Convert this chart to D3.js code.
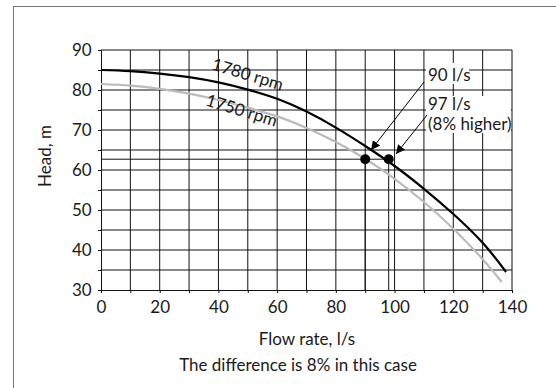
<!DOCTYPE html>
<html><head><meta charset="utf-8">
<script src="https://cdn.jsdelivr.net/npm/d3@7"></script>
<style>body{margin:0;background:#fff}svg{display:block}text{font-family:Lato,"Open Sans",sans-serif;fill:#1a1a1a}</style>
</head><body><svg id="c" width="556" height="388"></svg>
<script>
const flow1780 = [0,10,20,30,40,50,60,70,80,90,100,110,120,130,138];
const head1780 = [85,84.7,84.1,83.2,81.9,80.1,77.8,74.6,70.6,66.0,61.0,55.3,49.0,41.8,34.5];
const flow1750 = [0,10,20,30,40,50,60,70,80,90,100,110,120,130,136.5];
const head1750 = [81.5,81.1,80.3,79.1,77.5,75.6,73.4,70.5,67.0,62.8,57.8,52.0,45.3,37.7,32];
const pointFlow = [90,98];
const pointHead = [62.7,62.7];
const xTicks = [0,20,40,60,80,100,120,140];
const yTicks = [30,40,50,60,70,80,90];
const curveLabels = ["1780 rpm","1750 rpm"];
const annot1 = ["90 l/s"];
const annot2 = ["97 l/s","(8% higher)"];
const xTitle = "Flow rate, l/s", yTitle = "Head, m", note = "The difference is 8% in this case";

const FS = 17;
const svg = d3.select("#c");
const x = d3.scaleLinear().domain([0,140]).range([101,512]);
const y = d3.scaleLinear().domain([30,90]).range([290,50]);

svg.append("rect").attr("x",13.5).attr("y",6.5).attr("width",600).attr("height",500)
  .attr("fill","none").attr("stroke","#777");

const g = svg.append("g");
d3.range(10,141,10).forEach(v=>g.append("line").attr("x1",x(v)).attr("x2",x(v)).attr("y1",y(30)).attr("y2",y(90)).attr("stroke","#111"));
d3.range(35,91,5).forEach(v=>g.append("line").attr("x1",x(0)).attr("x2",x(140)).attr("y1",y(v)).attr("y2",y(v)).attr("stroke","#111"));

const xa = svg.append("g").attr("transform",`translate(0,${y(30)})`)
  .call(d3.axisBottom(x).tickValues(d3.range(0,141,10)).tickSize(3).tickFormat(d=>xTicks.includes(d)?d:""));
const ya = svg.append("g").attr("transform",`translate(${x(0)},0)`)
  .call(d3.axisLeft(y).tickValues(d3.range(30,91,5)).tickSize(3).tickFormat(d=>yTicks.includes(d)?d:""));
[xa,ya].forEach(a=>{a.select(".domain").attr("stroke","#111");a.selectAll("line").attr("stroke","#111");
  a.selectAll("text").attr("font-size",FS).attr("font-family","Lato").attr("fill","#1a1a1a");});
xa.selectAll("text").attr("dy","0.98em");
ya.selectAll("text").attr("dx","-0.2em");

g.append("line").attr("x1",x(0)).attr("x2",x(pointFlow[1])).attr("y1",y(pointHead[1])).attr("y2",y(pointHead[1])).attr("stroke","#111");
pointFlow.forEach((f,i)=>g.append("line").attr("x1",x(f)).attr("x2",x(f)).attr("y1",y(pointHead[i])).attr("y2",y(30)).attr("stroke","#111"));

const line = d3.line().curve(d3.curveNatural);
svg.append("path").attr("d",line(flow1750.map((f,i)=>[x(f),y(head1750[i])]))).attr("fill","none").attr("stroke","#bbb").attr("stroke-width",2.2);
svg.append("path").attr("d",line(flow1780.map((f,i)=>[x(f),y(head1780[i])]))).attr("fill","none").attr("stroke","#000").attr("stroke-width",2.2);

svg.append("text").attr("transform","translate(246,80) rotate(17)").attr("text-anchor","middle").attr("font-size",FS).text(curveLabels[0]);
svg.append("text").attr("transform","translate(240,116) rotate(17)").attr("text-anchor","middle").attr("font-size",FS).text(curveLabels[1]);

pointFlow.forEach((f,i)=>svg.append("circle").attr("cx",x(f)).attr("cy",y(pointHead[i])).attr("r",5).attr("fill","#000"));

svg.append("rect").attr("x",426).attr("y",63).attr("width",43).attr("height",21).attr("fill","#fff");
svg.append("rect").attr("x",426).attr("y",96).attr("width",85).attr("height",37).attr("fill","#fff");
svg.append("text").attr("x",428).attr("y",81).attr("font-size",FS).text(annot1[0]);
annot2.forEach((t,i)=>svg.append("text").attr("x",428).attr("y",110+i*20).attr("font-size",FS).text(t));

const defs = svg.append("defs");
defs.append("marker").attr("id","ah").attr("viewBox","0 0 10 10").attr("refX",10).attr("refY",5)
  .attr("markerWidth",9).attr("markerHeight",9).attr("markerUnits","userSpaceOnUse").attr("orient","auto")
  .append("path").attr("d","M0,0L10,5L0,10z").attr("fill","#000");
svg.append("line").attr("x1",424).attr("y1",82).attr("x2",371).attr("y2",150).attr("stroke","#000").attr("marker-end","url(#ah)");
svg.append("line").attr("x1",427).attr("y1",115).attr("x2",396).attr("y2",154).attr("stroke","#000").attr("marker-end","url(#ah)");

svg.append("text").attr("transform","translate(51,156) rotate(-90)").attr("text-anchor","middle").attr("font-size",FS).text(yTitle);
svg.append("text").attr("x",307).attr("y",345).attr("text-anchor","middle").attr("font-size",FS).text(xTitle);
svg.append("text").attr("x",298).attr("y",371).attr("text-anchor","middle").attr("font-size",FS).text(note);
</script></body></html>
